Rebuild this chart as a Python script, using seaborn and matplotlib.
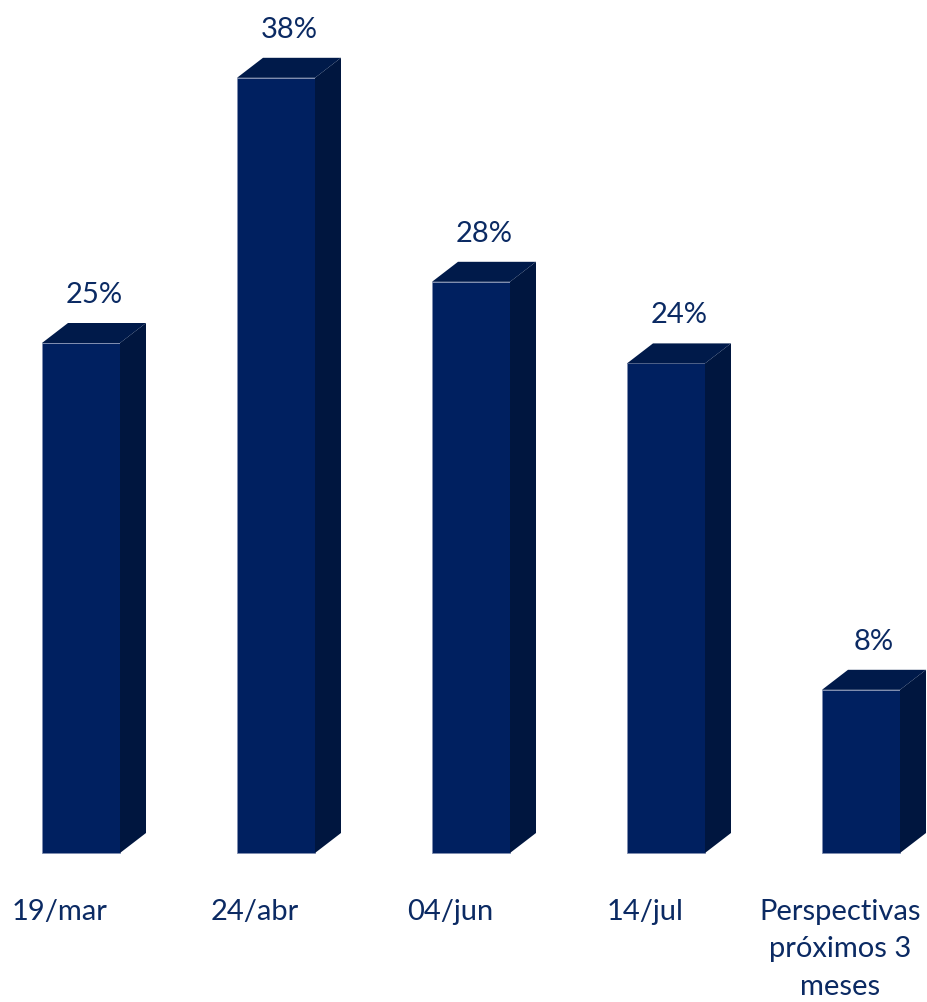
import matplotlib
matplotlib.use("Agg")
import matplotlib.pyplot as plt
from matplotlib.patches import Polygon
import seaborn as sns
import pandas as pd

categories = ["19/mar", "24/abr", "04/jun", "14/jul", "Perspectivas\npróximos 3\nmeses"]
values = [25, 38, 28, 24, 8]
value_labels = ["25%", "38%", "28%", "24%", "8%"]

FRONT = "#002060"
SIDE = "#00163F"
TOP = "#001A4A"
TEXT = "#0B2A63"

sns.set_theme(style="white")
plt.rcParams["font.family"] = ["Lato", "DejaVu Sans"]

fig = plt.figure(figsize=(9.27, 10.03), dpi=100)
ax = fig.add_axes([0, 0, 1, 1])

df = pd.DataFrame({"cat": categories, "val": values})
sns.barplot(data=df, x="cat", y="val", color=FRONT, saturation=1, width=0.4,
            edgecolor="#7f8db0", linewidth=0.6, ax=ax)

ax.set_xlim(-81 / 195, (927 - 81) / 195)
ax.set_ylim(-149 / 20.4, (1003 - 149) / 20.4)
ax.axis("off")

dx = 26 / 195
dy = 20 / 20.4

for i, p in enumerate(ax.patches[:len(values)]):
    x0 = p.get_x()
    w = p.get_width()
    h = p.get_height()
    x1 = x0 + w
    side = Polygon([(x1, 0), (x1 + dx, dy), (x1 + dx, h + dy), (x1, h)],
                   closed=True, facecolor=SIDE, edgecolor="none", zorder=2)
    top = Polygon([(x0, h), (x0 + dx, h + dy), (x1 + dx, h + dy), (x1, h)],
                  closed=True, facecolor=TOP, edgecolor="none", zorder=2)
    ax.add_patch(side)
    ax.add_patch(top)
    ax.text(x0 + w / 2 + dx / 2, h + 2.4, value_labels[i], ha="center", va="center",
            fontsize=21, color=TEXT)
    ax.text(x0 + w / 2 - 21 / 195, -2.2, categories[i], ha="center", va="top",
            fontsize=21, color=TEXT, linespacing=1.55)

fig.savefig("out.png", dpi=100)
